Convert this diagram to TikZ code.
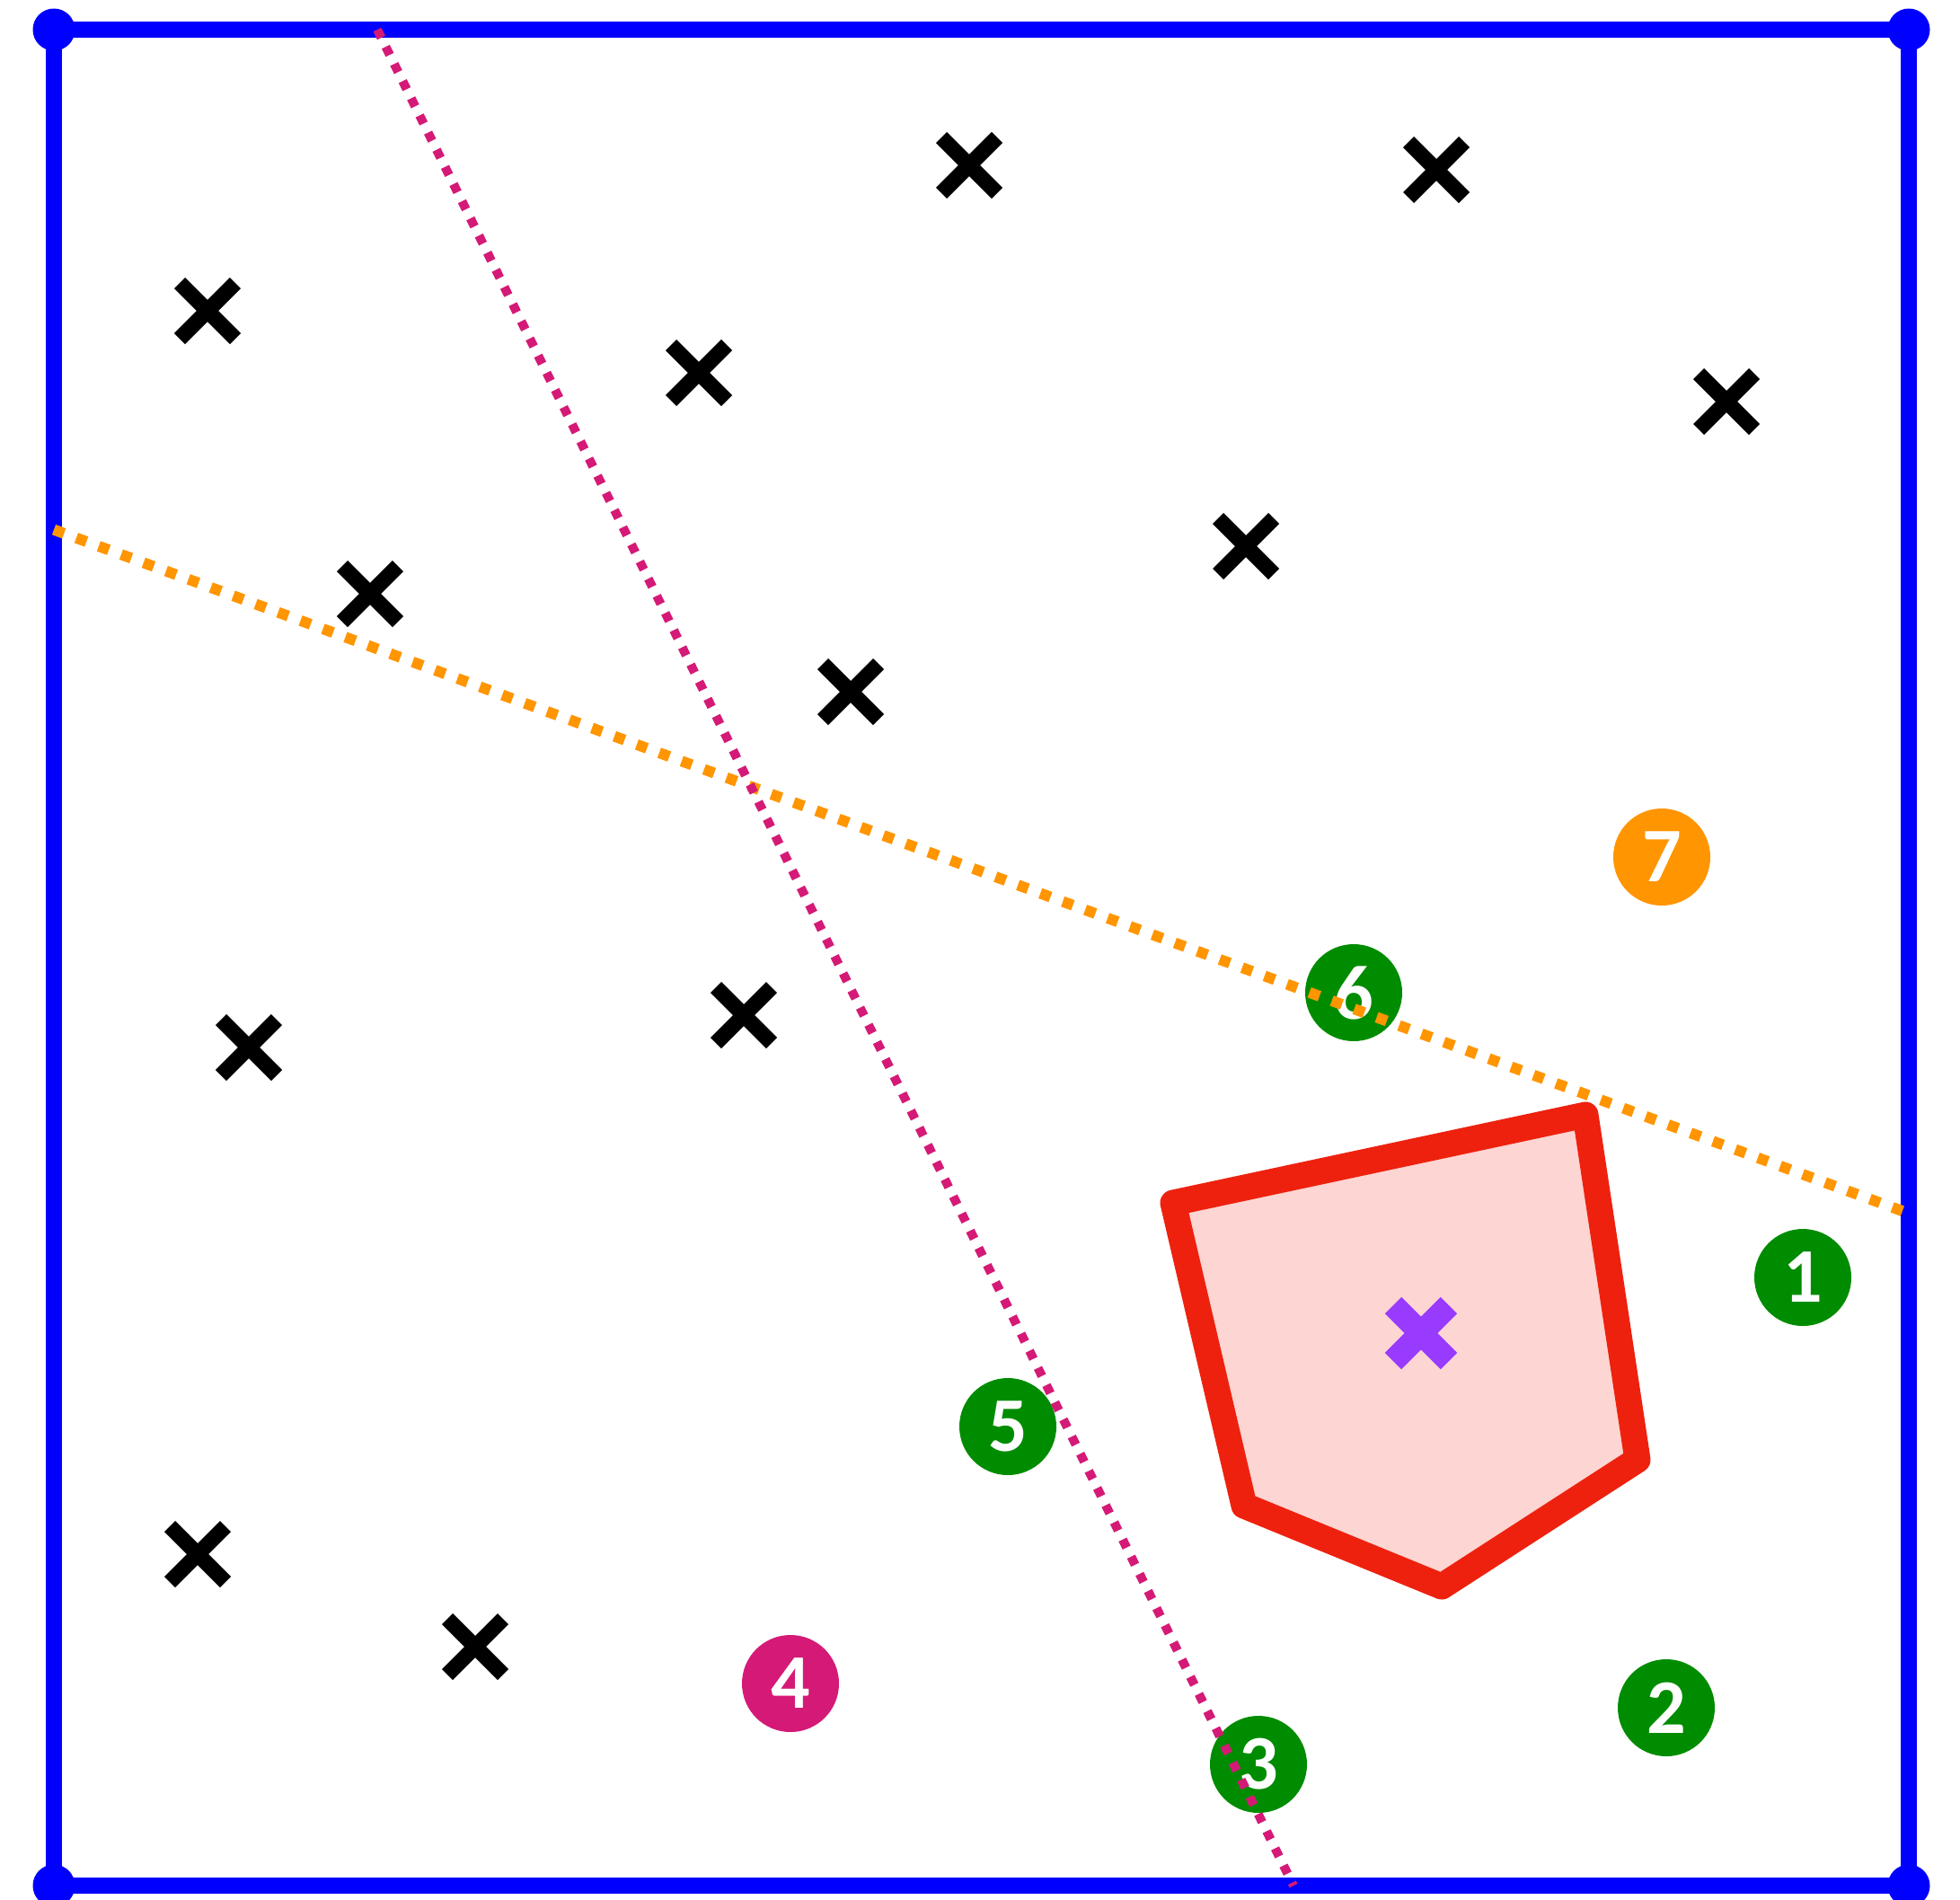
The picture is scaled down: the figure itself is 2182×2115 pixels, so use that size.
\documentclass[tikz,border=0pt]{standalone}
\usepackage{fontspec}
\newfontfamily\digitfont{Carlito}
\definecolor{frameblue}{RGB}{0,0,255}
\definecolor{mgreen}{RGB}{0,140,0}
\definecolor{morange}{RGB}{255,149,0}
\definecolor{mmagenta}{RGB}{212,26,118}
\definecolor{pred}{RGB}{238,33,15}
\definecolor{ppink}{RGB}{253,213,210}
\definecolor{mpurple}{RGB}{153,58,255}
\tikzset{
  crossmark/.pic={\draw[black,line width=17pt] (-31,-31)--(31,31) (-31,31)--(31,-31);},
  bigcross/.pic={\draw[mpurple,line width=26pt] (-31,-31)--(31,31) (-31,31)--(31,-31);},
  badge/.style={circle,fill=#1,minimum size=108pt,inner sep=0pt,text=white,
    font=\digitfont\bfseries\fontsize{86pt}{90pt}\selectfont},
  cornerdot/.style={fill=frameblue},
  orangeline/.style={morange,line width=12pt,dash pattern=on 12pt off 14.6pt},
  magline/.style={mmagenta,line width=10pt,dash pattern=on 10pt off 11.3pt},
}
\begin{document}
\begin{tikzpicture}[x=1pt,y=-1pt]
\useasboundingbox (0,0) rectangle (2182,2115);
% frame
\draw[frameblue,line width=17.5pt] (60,33) rectangle (2125,2099);
% polygon
\filldraw[draw=pred,fill=ppink,line width=29pt,line join=round]
  (1306,1339) -- (1765,1241) -- (1823,1625) -- (1605,1766) -- (1385,1676) -- cycle;
% crosses
\pic at (231,346) {crossmark};
\pic at (778,415) {crossmark};
\pic at (1079,184) {crossmark};
\pic at (1599,189) {crossmark};
\pic at (1922,447) {crossmark};
\pic at (1387,608) {crossmark};
\pic at (412,661) {crossmark};
\pic at (947,770) {crossmark};
\pic at (277,1166) {crossmark};
\pic at (828,1130) {crossmark};
\pic at (220,1730) {crossmark};
\pic at (529,1833) {crossmark};
\pic at (1582,1484) {bigcross};
% badges
\node[badge=mgreen] (n1) at (2007,1422) {1};
\node[badge=mgreen] (n2) at (1855,1901) {2};
\node[badge=mgreen] (n3) at (1401,1964) {3};
\node[badge=mmagenta] (n4) at (880,1874) {4};
\node[badge=mgreen] (n5) at (1122,1588) {5};
\node[badge=mgreen] (n6) at (1507,1105) {6};
\node[badge=morange] (n7) at (1850,954) {7};
% bisector lines
\coordinate (oa) at (60,589.6);
\coordinate (ob) at (2125,1350.7);
\coordinate (ma) at (420,33);
\coordinate (mb) at (1440,2099);
\draw[orangeline] (oa) -- (ob);
\draw[magline] (ma) -- (mb);
% corner dots
\fill[cornerdot] (60,33) circle (23.5pt);
\fill[cornerdot] (2125,33) circle (23.5pt);
\fill[cornerdot] (60,2099) circle (23.5pt);
\fill[cornerdot] (2125,2099) circle (23.5pt);
\end{tikzpicture}
\end{document}
